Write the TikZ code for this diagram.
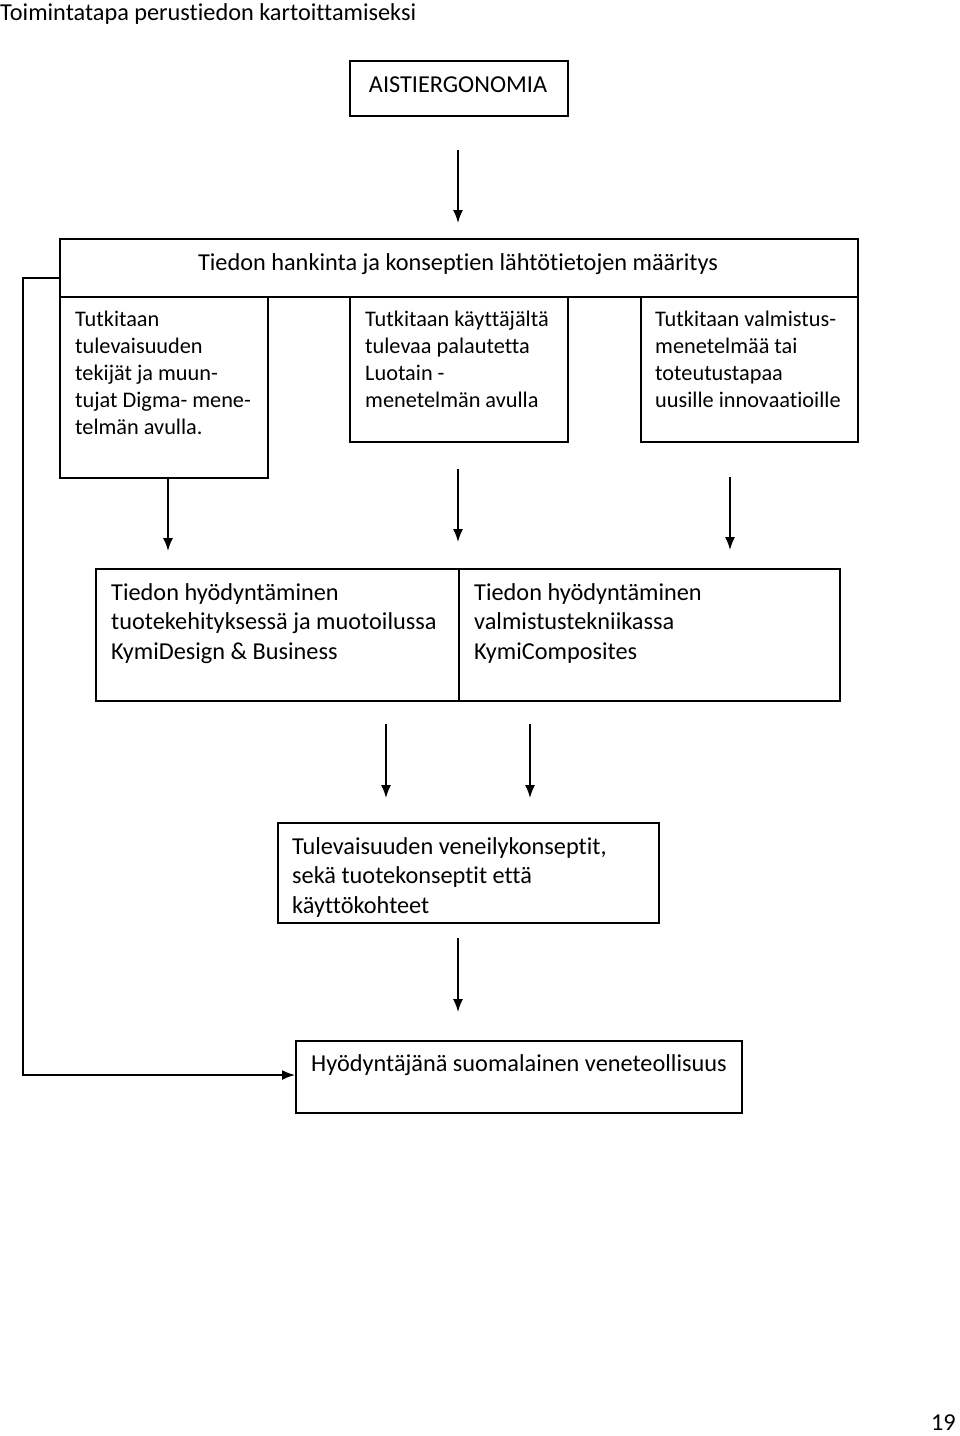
\documentclass[tikz,border=0pt]{standalone}
\usepackage{fontspec}
\setmainfont[Ligatures=NoCommon]{Carlito}
\usetikzlibrary{arrows.meta,calc}
\begin{document}
\begin{tikzpicture}[x=1pt,y=-1pt,
  box/.style={draw=black,line width=1.6pt,inner sep=0pt,anchor=north west},
  onetxt/.style={inner sep=0pt,font=\fontsize{24.3}{29}\selectfont},
  smalltxt/.style={inner sep=0pt,anchor=base west,align=left,font=\fontsize{22.3}{27}\selectfont},
  bigtxt/.style={inner sep=0pt,anchor=base west,align=left,font=\fontsize{24.3}{29.5}\selectfont},
  arr/.style={line width=1.6pt,-{Latex[length=13pt,width=10pt]}}]
\useasboundingbox (0,0) rectangle (960,1436);
% title
\node[onetxt,anchor=base west] (title) at (0,20) {Toimintatapa perustiedon kartoittamiseksi};
% AISTIERGONOMIA
\node[box,minimum width=218pt,minimum height=55pt] (aist) at (349,60) {};
\node[onetxt,anchor=base] (aisttxt) at (458,92) {AISTIERGONOMIA};
% header
\node[box,minimum width=798pt,minimum height=58pt] (head) at (59,238) {};
\node[onetxt,anchor=base] (headtxt) at (458,270) {Tiedon hankinta ja konseptien lähtötietojen määritys};
% three boxes (node base = last line's baseline)
\node[box,minimum width=208pt,minimum height=181pt] (b1) at (59,296) {};
\node[smalltxt] (b1txt) at (75,434) {Tutkitaan\\tulevaisuuden\\tekijät ja muun-\\tujat Digma- mene-\\telmän avulla.};
\node[box,minimum width=218pt,minimum height=145pt] (b2) at (349,296) {};
\node[smalltxt] (b2txt) at (365,407) {Tutkitaan käyttäjältä\\tulevaa palautetta\\Luotain -\\menetelmän avulla};
\node[box,minimum width=217pt,minimum height=145pt] (b3) at (640,296) {};
\node[smalltxt] (b3txt) at (655,407) {Tutkitaan valmistus-\\menetelmää tai\\toteutustapaa\\uusille innovaatioille};
% row 2
\node[box,minimum width=363pt,minimum height=132pt] (r1) at (95,568) {};
\node[box,minimum width=381pt,minimum height=132pt] (r2) at (458,568) {};
\node[bigtxt] (r1txt) at (111,659) {Tiedon hyödyntäminen\\tuotekehityksessä ja muotoilussa\\KymiDesign \& Business};
\node[bigtxt] (r2txt) at (474,659) {Tiedon hyödyntäminen\\valmistustekniikassa\\KymiComposites};
% box 3
\node[box,minimum width=381pt,minimum height=100pt] (c) at (277,822) {};
\node[bigtxt] (ctxt) at (292,913) {Tulevaisuuden veneilykonseptit,\\sekä tuotekonseptit että\\käyttökohteet};
% box 4
\node[box,minimum width=446pt,minimum height=72pt] (d) at (295,1040) {};
\node[bigtxt] (dtxt) at (311,1071) {Hyödyntäjänä suomalainen veneteollisuus};
% page number
\node[onetxt,anchor=base east] (pg) at (956,1430) {19};
% arrows (free ends as coordinates)
\coordinate (a1s) at (458,150); \coordinate (a1e) at (458,223);
\coordinate (a2s) at (168,477); \coordinate (a2e) at (168,551);
\coordinate (a3s) at (458,469); \coordinate (a3e) at (458,542);
\coordinate (a4s) at (730,477); \coordinate (a4e) at (730,550);
\coordinate (a5s) at (386,724); \coordinate (a5e) at (386,798);
\coordinate (a6s) at (530,724); \coordinate (a6e) at (530,798);
\coordinate (a7s) at (458,938); \coordinate (a7e) at (458,1012);
\draw[arr] (a1s) -- (a1e);
\draw[arr] (a2s) -- (a2e);
\draw[arr] (a3s) -- (a3e);
\draw[arr] (a4s) -- (a4e);
\draw[arr] (a5s) -- (a5e);
\draw[arr] (a6s) -- (a6e);
\draw[arr] (a7s) -- (a7e);
% feedback line
\coordinate (fb1) at (59,278);
\coordinate (fb2) at (23,278);
\coordinate (fb3) at (23,1075);
\draw[arr] (fb1) -- (fb2) -- (fb3) -- (d.west |- fb3);
\end{tikzpicture}
\end{document}
